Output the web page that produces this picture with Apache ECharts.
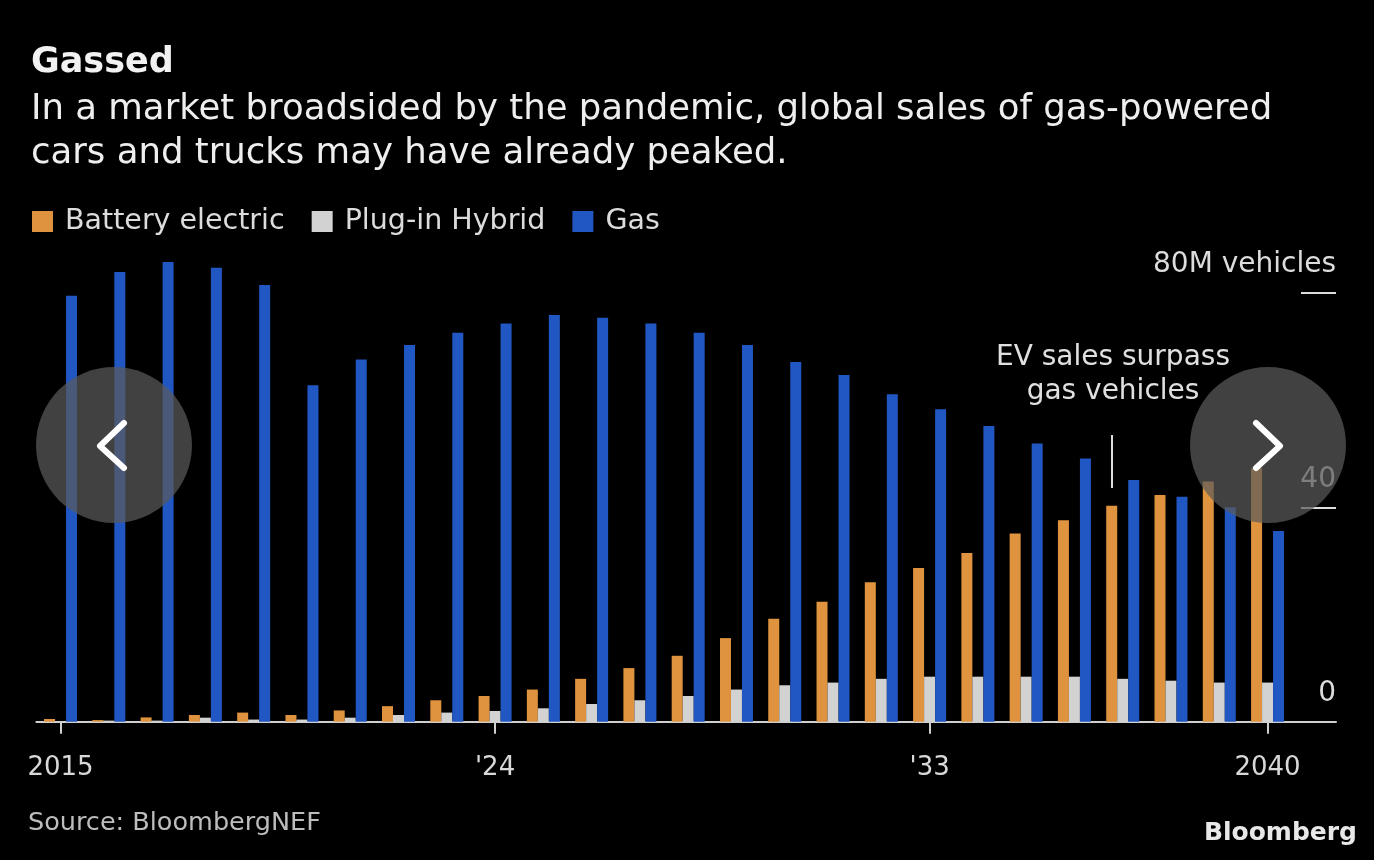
<!DOCTYPE html>
<html>
<head>
<meta charset="utf-8">
<script src="https://cdn.jsdelivr.net/npm/echarts@6/dist/echarts.min.js"></script>
<style>
html,body{margin:0;padding:0;background:#000;}
#chart{width:1374px;height:860px;}
</style>
</head>
<body>
<div id="chart"></div>
<script>
const years = ['2015','2016','2017','2018','2019','2020','2021','2022','2023','2024','2025','2026','2027','2028','2029','2030','2031','2032','2033','2034','2035','2036','2037','2038','2039','2040'];
const batteryElectric = [0.5,0.3,0.8,1.25,1.7,1.25,2.1,2.9,4.0,4.8,6.0,8.0,10.0,12.3,15.6,19.2,22.4,26.0,28.7,31.5,35.1,37.6,40.3,42.3,44.8,47.3];
const plugInHybrid = [0.1,0.2,0.2,0.75,0.4,0.4,0.75,1.25,1.7,2.0,2.5,3.3,4.0,4.8,6.0,6.8,7.3,8.0,8.4,8.4,8.4,8.4,8.0,7.65,7.3,7.3];
const gas = [79.5,83.9,85.8,84.7,81.5,62.8,67.6,70.3,72.6,74.3,75.9,75.4,74.3,72.6,70.3,67.1,64.7,61.1,58.3,55.2,51.9,49.1,45.1,42.0,40.0,35.6];
const xTickLabels = {'2015':'2015','2024':"'24",'2033':"'33",'2040':'2040'};
const yTickLabels = {0:'0',40:'40',80:'80M vehicles'};
const annotationYear = '2037';
const annotationRange = [43.6, 53.5];

const FONT = 'DejaVu Sans';
const chart = echarts.init(document.getElementById('chart'));
const showTick = (idx, val) => xTickLabels[val] !== undefined;
const AXIS_COLOR = '#cfcfcf';

const option = {
  backgroundColor: '#000',
  animation: false,
  textStyle: {fontFamily: FONT},
  title: [
    {text: 'Gassed', left: 26, top: 40, textStyle: {fontFamily: FONT, fontSize: 35, fontWeight: 'bold', color: '#f2f2f2'}},
    {text: 'In a market broadsided by the pandemic, global sales of gas-powered\ncars and trucks may have already peaked.', left: 26, top: 83,
     textStyle: {fontFamily: FONT, fontSize: 35.5, fontWeight: 'normal', color: '#eeeeee', lineHeight: 44}}
  ],
  legend: {
    left: 27, top: 202, icon: 'rect', itemWidth: 21, itemHeight: 21, itemGap: 27,
    textStyle: {fontFamily: FONT, fontSize: 28.5, color: '#dcdcdc', padding: [0,0,0,7]},
    data: ['Battery electric','Plug-in Hybrid','Gas']
  },
  grid: [
    {left: 36.4, width: 1255.3, top: 239.4, bottom: 138.3},
    {left: 1291.7, right: 38, top: 239.4, bottom: 138.3},
    {left: 1301, right: 38, top: 293, bottom: 138.3}
  ],
  xAxis: [
    {type: 'category', gridIndex: 0, data: years, boundaryGap: true,
     axisLine: {show: true, lineStyle: {color: AXIS_COLOR, width: 2}},
     axisTick: {show: true, alignWithLabel: true, interval: showTick, length: 12, lineStyle: {color: AXIS_COLOR, width: 2}},
     axisLabel: {show: true, interval: showTick, formatter: v => xTickLabels[v] || '', color: '#d8d8d8', fontSize: 26, margin: 34, fontFamily: FONT},
     splitLine: {show: false}},
    {type: 'value', gridIndex: 1, min: 0, max: 1,
     axisLine: {show: true, onZero: false, lineStyle: {color: AXIS_COLOR, width: 2}},
     axisTick: {show: false}, axisLabel: {show: false}, splitLine: {show: false}},
    {type: 'value', gridIndex: 2, min: 0, max: 1, show: false}
  ],
  yAxis: [
    {type: 'value', gridIndex: 0, min: 0, max: 90, show: false},
    {type: 'value', gridIndex: 1, min: 0, max: 90, show: false},
    {type: 'value', gridIndex: 2, min: 0, max: 80, interval: 40, position: 'right',
     axisLine: {show: false}, axisTick: {show: false},
     axisLabel: {show: true, inside: true, margin: 0, formatter: v => yTickLabels[v] || '',
                 color: '#dcdcdc', fontSize: 28, fontFamily: FONT, align: 'right', verticalAlign: 'bottom', padding: [0,0,14,0]},
     splitLine: {show: true, lineStyle: {color: '#dcdcdc', width: 2, type: 'solid'}}}
  ],
  series: [
    {name: 'Battery electric', type: 'bar', xAxisIndex: 0, yAxisIndex: 0, data: batteryElectric, barWidth: 11, barGap: '0%',
     itemStyle: {color: '#e0933e'},
     markLine: {silent: true, symbol: 'none', label: {show: false},
       lineStyle: {color: '#dddddd', width: 2, type: 'solid'},
       data: [[{coord: [years.indexOf(annotationYear), annotationRange[0]]}, {coord: [years.indexOf(annotationYear), annotationRange[1]]}]]}},
    {name: 'Plug-in Hybrid', type: 'bar', xAxisIndex: 0, yAxisIndex: 0, data: plugInHybrid, barWidth: 11, barGap: '0%',
     itemStyle: {color: '#d2d2d2'}},
    {name: 'Gas', type: 'bar', xAxisIndex: 0, yAxisIndex: 0, data: gas, barWidth: 11, barGap: '0%',
     itemStyle: {color: '#2157c2'}}
  ],
  graphic: [
    {type: 'text', z: 10, style: {text: 'EV sales surpass\ngas vehicles', x: 1113, y: 341, textAlign: 'center', fill: '#e0e0e0', font: '28px "DejaVu Sans"', lineHeight: 34}},
    {type: 'text', z: 10, style: {text: 'Source: BloombergNEF', x: 28, y: 810, fill: '#bdbdbd', font: '25.5px "DejaVu Sans"'}},
    {type: 'text', z: 10, style: {text: 'Bloomberg', x: 1357, y: 821, textAlign: 'right', fill: '#e8e8e8', font: 'bold 25px "DejaVu Sans"'}},
    {type: 'circle', z: 100, shape: {cx: 114, cy: 445, r: 78}, style: {fill: 'rgba(90,90,90,0.72)'}},
    {type: 'polyline', z: 101, shape: {points: [[124,423],[100,446],[124,468]]}, style: {stroke: '#ffffff', lineWidth: 6, lineCap: 'round', lineJoin: 'round', fill: null}},
    {type: 'circle', z: 100, shape: {cx: 1268, cy: 445, r: 78}, style: {fill: 'rgba(90,90,90,0.72)'}},
    {type: 'polyline', z: 101, shape: {points: [[1256,423],[1280,446],[1256,468]]}, style: {stroke: '#ffffff', lineWidth: 6, lineCap: 'round', lineJoin: 'round', fill: null}}
  ]
};
chart.setOption(option);
</script>
</body>
</html>
